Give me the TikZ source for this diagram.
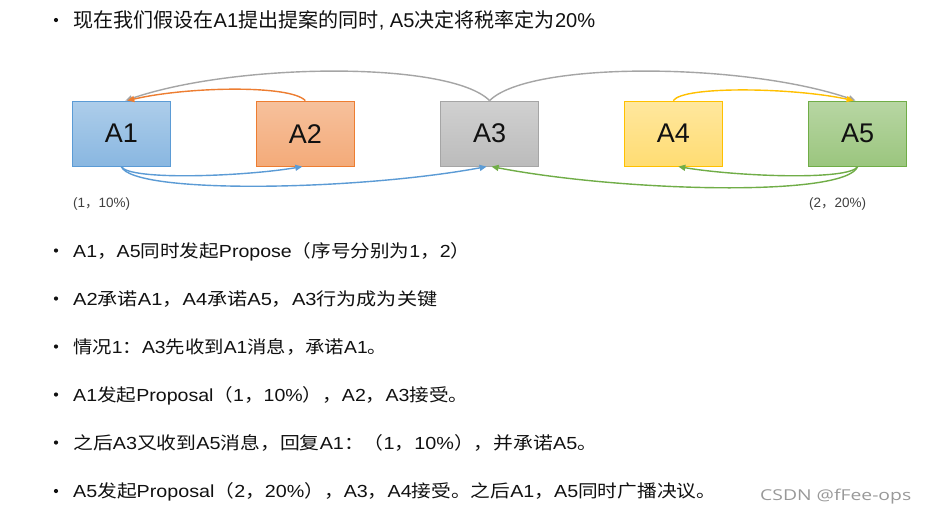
\documentclass[tikz,border=0pt]{standalone}
\usepackage{graphicx}
\usepackage{fontspec}
\setmainfont{Liberation Sans}
\newfontfamily\cjk{Noto Sans CJK SC}
\newfontfamily\wmfont{Open Sans}
\usetikzlibrary{arrows.meta}
\newcommand\zh[1]{{\cjk #1}}
\newcommand\fitline[2]{\resizebox{#1}{\height}{#2}}
\definecolor{txt}{HTML}{111111}
\definecolor{blueC}{HTML}{5B9BD5}
\definecolor{orangeC}{HTML}{ED7D31}
\definecolor{grayC}{HTML}{A5A5A5}
\definecolor{yellowC}{HTML}{FFC000}
\definecolor{greenC}{HTML}{70AD47}
\tikzset{
  acceptor/.style={draw, line width=1pt, minimum width=98pt, minimum height=65pt,
    inner sep=0pt, font=\fontsize{27}{30}\selectfont, text=txt},
  conn/.style={line width=1.4pt, -{Triangle[length=7pt,width=6pt]}},
  bullettext/.style={anchor=base west, inner sep=0pt, text=txt},
  dot/.style={circle, fill=txt, inner sep=0pt, minimum size=4.2pt},
  pairlabel/.style={anchor=base west, inner sep=0pt, text=black!75, font=\fontsize{13.5}{15}\selectfont}
}
\begin{document}
\begin{tikzpicture}[x=1pt,y=-1pt]
\useasboundingbox[fill=white] (0,0) rectangle (926,515);

% acceptor boxes
\node[acceptor, draw=blueC, top color=blueC!50!white, bottom color=blueC!72!white] (A1) at (121.3,133.6) {A1};
\node[acceptor, draw=orangeC, top color=orangeC!48!white, bottom color=orangeC!65!white] (A2) at (305.3,133.6) {A2};
\node[acceptor, draw=grayC, top color=grayC!52!white, bottom color=grayC!75!white] (A3) at (489.6,133.6) {A3};
\node[acceptor, draw=yellowC, top color=yellowC!38!white, bottom color=yellowC!55!white] (A4) at (673.3,133.6) {A4};
\node[acceptor, draw=greenC, top color=greenC!50!white, bottom color=greenC!70!white] (A5) at (857.6,133.6) {A5};

% connectors above
\draw[conn, grayC] (A3.north) .. controls +(-40,-40) and +(110,-38) .. ([xshift=4pt]A1.north);
\draw[conn, grayC] (A3.north) .. controls +(40,-40) and +(-110,-38) .. ([xshift=-2pt]A5.north);
\draw[conn, orangeC] (A2.north) .. controls +(-15,-16) and +(60,-14) .. ([xshift=6pt]A1.north);
\draw[conn, yellowC] (A4.north) .. controls +(10,-15) and +(-60,-13) .. ([xshift=-4pt]A5.north);

% connectors below
\draw[conn, blueC] (A1.south) .. controls +(8,14) and +(-60,10) .. ([xshift=-3pt]A2.south);
\draw[conn, blueC] (A1.south) .. controls +(12,28) and +(-130,24) .. ([xshift=-3pt]A3.south);
\draw[conn, greenC] (A5.south) .. controls +(-8,14) and +(60,10) .. ([xshift=5pt]A4.south);
\draw[conn, greenC] (A5.south) .. controls +(-12,31) and +(130,25) .. ([xshift=2pt]A3.south);

% pair labels
\node[pairlabel] (l1) at (73,207) {(1\zh{，}10\%)};
\node[pairlabel] (l5) at (809,207) {(2\zh{，}20\%)};

% bullet lines
\node[dot] (b1) at (56,20) {};
\node[bullettext, font=\fontsize{20}{24}\selectfont] (t1) at (73,27.5)
  {\fitline{522pt}{\zh{现在我们假设在}A1\zh{提出提案的同时}, A5\zh{决定将税率定为}20\%}};

\node[dot] (b2) at (56,250.5) {};
\node[bullettext, font=\fontsize{17.5}{21}\selectfont] (t2) at (73,257)
  {\fitline{397pt}{A1\zh{，}A5\zh{同时发起}Propose\zh{（序号分别为}1\zh{，}2\zh{）}}};

\node[dot] (b3) at (56,298.5) {};
\node[bullettext, font=\fontsize{17.5}{21}\selectfont] (t3) at (73,305)
  {\fitline{364pt}{A2\zh{承诺}A1\zh{，}A4\zh{承诺}A5\zh{，}A3\zh{行为成为关键}}};

\node[dot] (b4) at (56,346.5) {};
\node[bullettext, font=\fontsize{17.5}{21}\selectfont] (t4) at (73,353)
  {\fitline{314pt}{\zh{情况}1\zh{：}A3\zh{先收到}A1\zh{消息，承诺}A1\zh{。}}};

\node[dot] (b5) at (56,394.5) {};
\node[bullettext, font=\fontsize{17.5}{21}\selectfont] (t5) at (73,401)
  {\fitline{395pt}{A1\zh{发起}Proposal\zh{（}1\zh{，}10\%\zh{），}A2\zh{，}A3\zh{接受。}}};

\node[dot] (b6) at (56,442.5) {};
\node[bullettext, font=\fontsize{17.5}{21}\selectfont] (t6) at (73,449)
  {\fitline{524pt}{\zh{之后}A3\zh{又收到}A5\zh{消息，回复}A1\zh{：（}1\zh{，}10\%\zh{），并承诺}A5\zh{。}}};

\node[dot] (b7) at (56,491) {};
\node[bullettext, font=\fontsize{17.5}{21}\selectfont] (t7) at (73,497.5)
  {\fitline{643pt}{A5\zh{发起}Proposal\zh{（}2\zh{，}20\%\zh{），}A3\zh{，}A4\zh{接受。之后}A1\zh{，}A5\zh{同时广播决议。}}};

% watermark
\node[anchor=base west, inner sep=0pt, text=black!40, font=\wmfont\fontsize{15}{18}\selectfont] (wm) at (760,500)
  {\fitline{151pt}{CSDN @fFee-ops}};
\end{tikzpicture}
\end{document}
